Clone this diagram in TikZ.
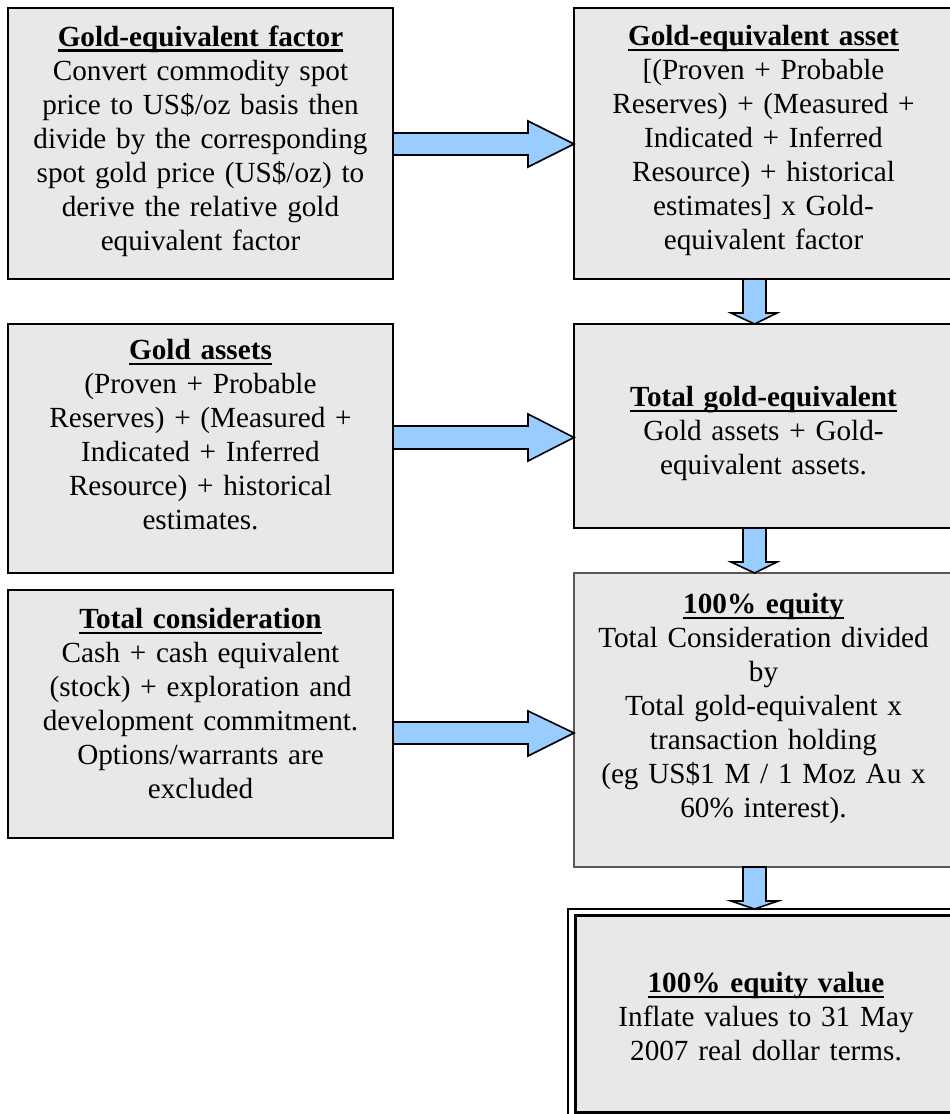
\documentclass[tikz,border=0pt]{standalone}
\usepackage{fontspec}
\setmainfont{Liberation Serif}
\usetikzlibrary{calc}
\definecolor{boxgray}{RGB}{232,232,232}
\definecolor{arrowblue}{RGB}{153,204,255}
\newsavebox\ttlbox
\newcommand\ttl[1]{\sbox\ttlbox{\bfseries #1}\leavevmode\rlap{\vrule height -3pt depth 5.6pt width \wd\ttlbox}\usebox\ttlbox}
\begin{document}
\begin{tikzpicture}[x=1pt,y=-1pt,
  box/.style={draw=black, line width=2pt, fill=boxgray, inner sep=0pt, outer sep=0pt},
  softbox/.style={draw=black!65, line width=1.5pt, fill=boxgray, inner sep=0pt, outer sep=0pt},
  txt/.style={inner sep=0pt, outer sep=0pt, text width=380pt, align=center, font=\fontsize{29.2}{34}\selectfont, anchor=north},
  blk/.style={draw=black, line width=1.6pt, fill=arrowblue, line join=miter}]
\useasboundingbox (0,0) rectangle (950,1114);
% boxes
\node[box, minimum width=385pt, minimum height=271pt] (A) at (200.5,143.5) {};
\node[box, minimum width=379pt, minimum height=271pt] (B) at (763.5,143.5) {};
\node[box, minimum width=385pt, minimum height=249pt] (C) at (200.5,448.5) {};
\node[box, minimum width=379pt, minimum height=204pt] (D) at (763.5,426) {};
\node[box, minimum width=385pt, minimum height=248pt] (E) at (200.5,714) {};
\node[softbox, minimum width=379pt, minimum height=294pt] (F) at (763.5,720) {};
\node[draw=black, line width=2pt, fill=white, inner sep=0pt, outer sep=0pt, minimum width=389pt, minimum height=209pt] (G) at (762.5,1013.5) {};
\node[draw=black, line width=3pt, fill=boxgray, inner sep=0pt, outer sep=0pt, minimum width=382pt, minimum height=197pt] (Gin) at (766,1013.5) {};
% texts
\node[txt] (At) at (200.5,25.5) {\ttl{Gold-equivalent factor}\\Convert commodity spot\\price to US\$/oz basis then\\divide by the corresponding\\spot gold price (US\$/oz) to\\derive the relative gold\\equivalent factor};
\node[txt] (Bt) at (763.5,25.5) {\ttl{Gold-equivalent asset}\\{[}(Proven + Probable\\Reserves) + (Measured +\\Indicated + Inferred\\Resource) + historical\\estimates] x Gold-\\equivalent factor};
\node[txt] (Ct) at (200.5,339.5) {\ttl{Gold assets}\\(Proven + Probable\\Reserves) + (Measured +\\Indicated + Inferred\\Resource) + historical\\estimates.};
\node[txt] (Dt) at (763.5,386.5) {\ttl{Total gold-equivalent}\\Gold assets + Gold-\\equivalent assets.};
\node[txt] (Et) at (200.5,608.5) {\ttl{Total consideration}\\Cash + cash equivalent\\(stock) + exploration and\\development commitment.\\Options/warrants are\\excluded};
\node[txt] (Ft) at (763.5,593.5) {\ttl{100\% equity}\\Total Consideration divided\\by\\Total gold-equivalent x\\transaction holding\\(eg US\$1 M / 1 Moz Au x\\60\% interest).};
\node[txt] (Gt) at (766,972.5) {\ttl{100\% equity value}\\Inflate values to 31 May\\2007 real dollar terms.};
% horizontal block arrows
\draw[blk] (A.east |- 0,133) -- (528,133) -- (528,121) -- (B.west |- 0,144) -- (528,167) -- (528,155) -- (A.east |- 0,155) -- cycle;
\draw[blk] (C.east |- 0,426) -- (528,426) -- (528,414) -- (D.west |- 0,437.5) -- (528,461) -- (528,449) -- (C.east |- 0,449) -- cycle;
\draw[blk] (E.east |- 0,722) -- (528,722) -- (528,711) -- (F.west |- 0,733) -- (528,756) -- (528,744) -- (E.east |- 0,744) -- cycle;
% vertical block arrows
\draw[blk] (B.south -| 743,0) -- (743,313) -- (731,313) -- (D.north -| 754.5,0) -- (777,313) -- (766,313) -- (B.south -| 766,0) -- cycle;
\draw[blk] (D.south -| 743,0) -- (743,562) -- (731,562) -- (F.north -| 754.5,0) -- (777,562) -- (766,562) -- (D.south -| 766,0) -- cycle;
\draw[blk] (F.south -| 743,0) -- (743,901) -- (731,901) -- (G.north -| 754.5,0) -- (778,901) -- (766,901) -- (F.south -| 766,0) -- cycle;
\end{tikzpicture}
\end{document}
